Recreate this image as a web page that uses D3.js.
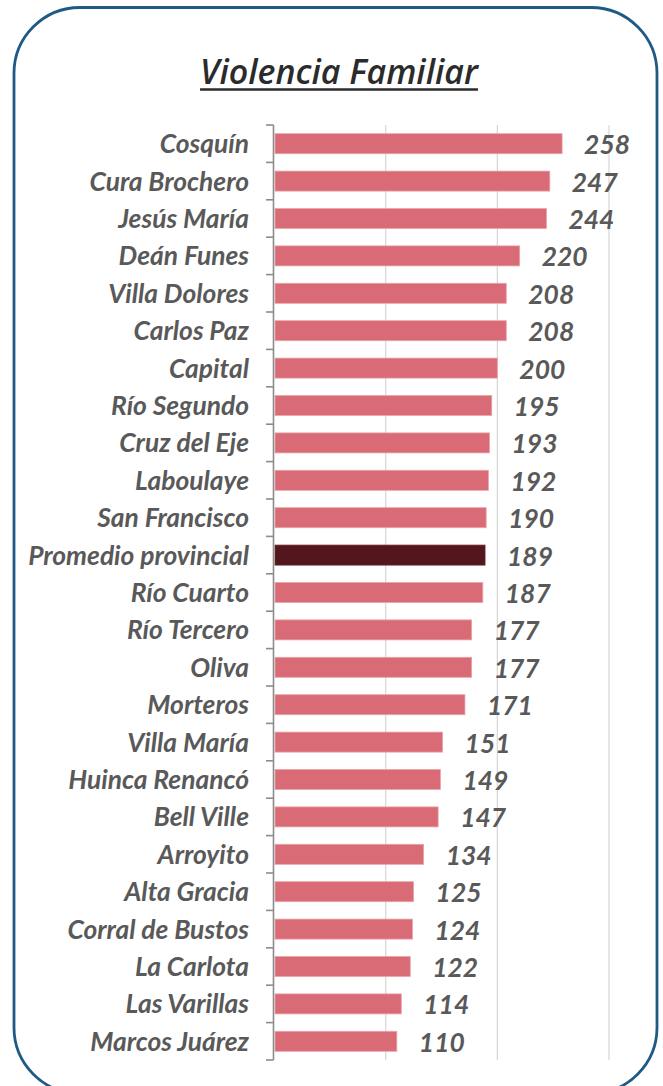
<!DOCTYPE html>
<html>
<head>
<meta charset="utf-8">
<script src="https://cdn.jsdelivr.net/npm/d3@7"></script>
<style>
html,body{margin:0;padding:0;background:#fff;}
svg{display:block;}
</style>
</head>
<body>
<svg id="chart" width="663" height="1086"></svg>
<script>
const title = "Violencia Familiar";
const categories = ["Cosquín","Cura Brochero","Jesús María","Deán Funes","Villa Dolores","Carlos Paz","Capital","Río Segundo","Cruz del Eje","Laboulaye","San Francisco","Promedio provincial","Río Cuarto","Río Tercero","Oliva","Morteros","Villa María","Huinca Renancó","Bell Ville","Arroyito","Alta Gracia","Corral de Bustos","La Carlota","Las Varillas","Marcos Juárez"];
const values = [258,247,244,220,208,208,200,195,193,192,190,189,187,177,177,171,151,149,147,134,125,124,122,114,110];
const highlight = "Promedio provincial";
const gridTicks = [100,200,300];

const svg = d3.select("#chart");

// rounded frame
svg.append("rect")
  .attr("x",14).attr("y",7.5).attr("width",643).attr("height",1086)
  .attr("rx",66).attr("ry",66)
  .attr("fill","none").attr("stroke","#1f5a85").attr("stroke-width",2.8);

// title
const t = svg.append("text")
  .attr("x",339).attr("y",84)
  .attr("text-anchor","middle")
  .style("font-family","'Open Sans', sans-serif")
  .style("font-style","italic")
  .style("font-weight","600")
  .style("font-size","30px")
  .attr("fill","#2b2b2b")
  .text(title);
let tw = t.node().getComputedTextLength();
const tSize = 30*278/tw;
t.style("font-size", tSize+"px");
tw = t.node().getComputedTextLength();
svg.append("line")
  .attr("x1",339-tw/2).attr("x2",339+tw/2)
  .attr("y1",89.5).attr("y2",89.5)
  .attr("stroke","#2b2b2b").attr("stroke-width",2.6);

const x = d3.scaleLinear().domain([0,300]).range([274,609]);
const pad = 0.465;
const y = d3.scaleBand().domain(categories).range([125,1060]).paddingInner(pad).paddingOuter(pad/2);
const step = y.step();

// gridlines
svg.append("g").selectAll("line").data(gridTicks).join("line")
  .attr("x1",d=>x(d)).attr("x2",d=>x(d))
  .attr("y1",125).attr("y2",1060)
  .attr("stroke","#d9d9d9").attr("stroke-width",1.3);

// bars
svg.append("g").selectAll("rect").data(categories).join("rect")
  .attr("x",x(0)+1)
  .attr("y",d=>y(d))
  .attr("width",(d,i)=>x(values[i])-x(0)-1)
  .attr("height",y.bandwidth())
  .attr("fill",d=>d===highlight?"#52161c":"#d96b76")
  .attr("stroke",d=>d===highlight?"#6a2a30":"#e9a3a9")
  .attr("stroke-width",0.8);

// axis line and ticks
const axisG = svg.append("g");
axisG.append("line")
  .attr("x1",x(0)-0.5).attr("x2",x(0)-0.5)
  .attr("y1",125).attr("y2",1060)
  .attr("stroke","#8c8c8c").attr("stroke-width",1.6);
const boundaries = categories.map(c=>y(c)-step*pad/2).concat([1060]);
axisG.selectAll("line.tk").data(boundaries).join("line")
  .attr("class","tk")
  .attr("x1",266).attr("x2",x(0)-0.5)
  .attr("y1",d=>d).attr("y2",d=>d)
  .attr("stroke","#8c8c8c").attr("stroke-width",1.6);

// category labels
const lab = svg.append("g").selectAll("text").data(categories).join("text")
  .attr("x",249)
  .attr("y",d=>y(d)+y.bandwidth()/2)
  .attr("dy","0.36em")
  .attr("text-anchor","end")
  .style("font-family","Lato, sans-serif")
  .style("font-weight","bold")
  .style("font-style","italic")
  .style("font-size","22px")
  .attr("fill","#595959")
  .text(d=>d);
const maxW = d3.max(lab.nodes(), n=>n.getComputedTextLength());
const lSize = 22*221/maxW;
lab.style("font-size", lSize+"px");

// value labels
svg.append("g").selectAll("text").data(categories).join("text")
  .attr("x",(d,i)=>x(values[i])+22)
  .attr("y",d=>y(d)+y.bandwidth()/2+1)
  .attr("dy","0.36em")
  .attr("text-anchor","start")
  .style("font-family","Lato, sans-serif")
  .style("font-weight","bold")
  .style("font-style","italic")
  .style("font-size", lSize+"px")
  .attr("fill","#595959")
  .text((d,i)=>values[i]);
</script>
</body>
</html>
